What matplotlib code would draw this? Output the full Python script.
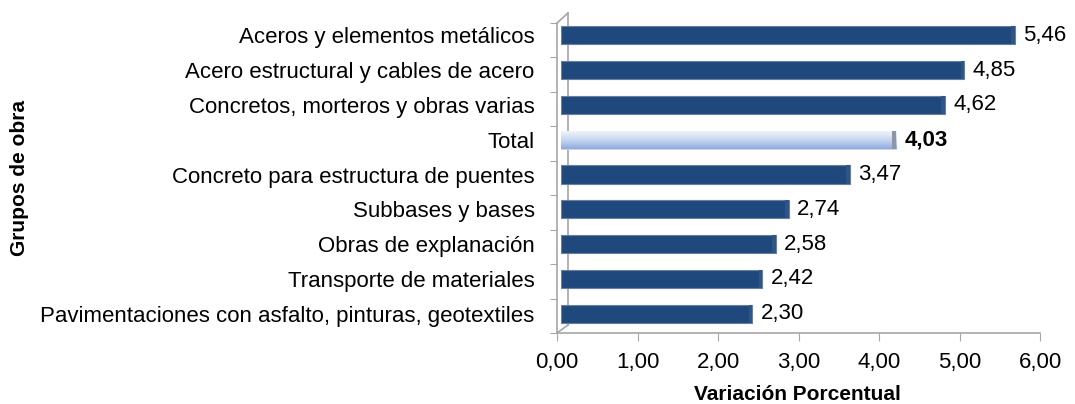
import matplotlib
matplotlib.use("Agg")
import matplotlib.pyplot as plt
import numpy as np
from matplotlib.lines import Line2D
from matplotlib.colors import LinearSegmentedColormap

plt.rcParams['font.family'] = ['Liberation Sans', 'DejaVu Sans']

categories = [
    "Aceros y elementos metálicos",
    "Acero estructural y cables de acero",
    "Concretos, morteros y obras varias",
    "Total",
    "Concreto para estructura de puentes",
    "Subbases y bases",
    "Obras de explanación",
    "Transporte de materiales",
    "Pavimentaciones con asfalto, pinturas, geotextiles",
]
values = [5.46, 4.85, 4.62, 4.03, 3.47, 2.74, 2.58, 2.42, 2.30]
value_labels = ["5,46", "4,85", "4,62", "4,03", "3,47", "2,74", "2,58", "2,42", "2,30"]
xticks = [0, 1, 2, 3, 4, 5, 6]
xtick_labels = ["0,00", "1,00", "2,00", "3,00", "4,00", "5,00", "6,00"]
highlight = "Total"

W, H = 1075, 404
fig = plt.figure(figsize=(W / 100, H / 100), dpi=100)

def fx(px):
    return px / W

def fy(py):
    return 1 - py / H

gray = "#a6a6a6"
FS = 16

# Front axes: floor axis with ticks, wall front edge
ax_front = fig.add_axes([fx(557), fy(333), fx(1040) - fx(557), fy(23) - fy(333)])
ax_front.set_xlim(0, 6)
ax_front.set_ylim(0, 9)
ax_front.set_xticks(xticks)
ax_front.set_xticklabels(xtick_labels, fontsize=FS)
ax_front.set_yticks(np.arange(0, 10))
ax_front.set_yticklabels([])
for s in ["top", "right"]:
    ax_front.spines[s].set_visible(False)
for s in ["left", "bottom"]:
    ax_front.spines[s].set_color(gray)
    ax_front.spines[s].set_linewidth(1.2)
ax_front.tick_params(axis="x", direction="out", length=6, color=gray, pad=8, labelcolor="black")
ax_front.tick_params(axis="y", direction="out", length=5, color=gray)
ax_front.patch.set_alpha(0)

# Back wall lines (3D frame), drawn beneath the bars
for xs, ys in [([557, 568], [23, 13]), ([568, 568], [13, 325]), ([557, 568], [333, 325])]:
    ax_front.add_line(Line2D([fx(x) for x in xs], [fy(y) for y in ys], color=gray, lw=1.2,
                             transform=fig.transFigure, clip_on=False))

# Bar axes
ax = fig.add_axes([fx(561), fy(331), fx(1060) - fx(561), fy(18) - fy(331)])
ax.set_xlim(0, 6)
n = len(categories)
ypos = np.arange(n)
ax.set_ylim(n - 0.5, -0.5)
ax.patch.set_alpha(0)
for s in ax.spines.values():
    s.set_visible(False)
ax.set_xticks([])
ax.set_yticks(ypos)
ax.set_yticklabels(categories, fontsize=FS)
ax.tick_params(axis="y", length=0, pad=19)

bh = 0.52
cmap = LinearSegmentedColormap.from_list("g", ["#f4f7fc", "#c9d8f0", "#8eaade"])
for i, (c, v, lab) in enumerate(zip(categories, values, value_labels)):
    if c == highlight:
        bar = ax.barh(i, v, height=bh, color="#b9cbe8", edgecolor="#c8d3e3", lw=0.6, zorder=2)[0]
        grad = np.linspace(0, 1, 100).reshape(-1, 1)
        im = ax.imshow(grad, cmap=cmap, aspect="auto",
                       extent=[0, v, i + bh / 2, i - bh / 2], zorder=3)
        im.set_clip_path(bar)
        ax.barh(i, 0.05, left=v - 0.05, height=bh, color="#8c96a6", lw=0, zorder=4)
        ax.annotate(lab, (v, i), xytext=(6, 0), textcoords="offset points",
                    va="center", ha="left", fontsize=FS, fontweight="bold")
    else:
        ax.barh(i, v, height=bh, color="#1f497d", edgecolor="#6a7f9c", lw=0.8, zorder=2)
        ax.barh(i, 0.045, left=v - 0.045, height=bh, color="#2f5585", lw=0, zorder=3)
        ax.annotate(lab, (v, i), xytext=(6, 0), textcoords="offset points",
                    va="center", ha="left", fontsize=FS)
ax.set_xlim(0, 6)
ax.set_ylim(n - 0.5, -0.5)

fig.text(fx(797), fy(394), "Variación Porcentual", fontsize=15, fontweight="bold",
         ha="center", va="center")
fig.text(fx(20), fy(178), "Grupos de obra", rotation=90, fontsize=15,
         fontweight="bold", ha="center", va="center")

fig.savefig("out.png", dpi=100)
